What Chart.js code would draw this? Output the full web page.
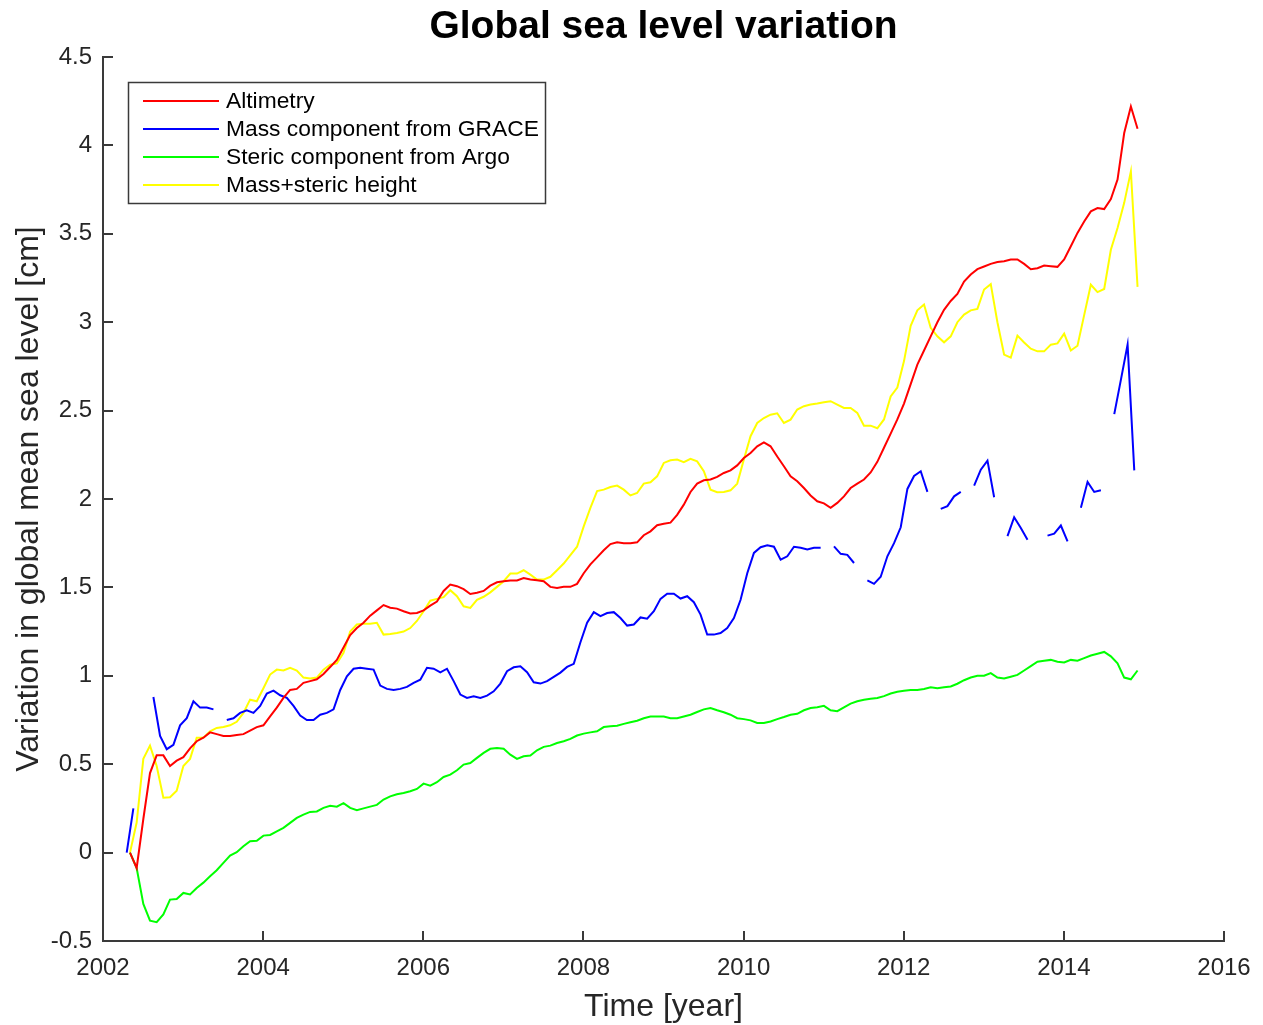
<!DOCTYPE html>
<html>
<head>
<meta charset="utf-8">
<title>Global sea level variation</title>
<script src="https://cdn.jsdelivr.net/npm/chart.js@4.4.1/dist/chart.umd.min.js"></script>
<style>
  html, body { margin: 0; padding: 0; background: #ffffff; }
  canvas { display: block; }
</style>
</head>
<body>
<canvas id="chart" width="1263" height="1025"></canvas>
<script>
// monthly sampling: altimetry / Argo grid and the GRACE grid (half a month earlier)
const MONTHLY_START = 2002.337;
const GRACE_START = 2002.296;

const X_TICKS = [2002, 2004, 2006, 2008, 2010, 2012, 2014, 2016];
const Y_TICKS = [-0.5, 0, 0.5, 1, 1.5, 2, 2.5, 3, 3.5, 4, 4.5];

const SERIES_LABELS = ["Altimetry", "Mass component from GRACE", "Steric component from Argo", "Mass+steric height"];

const altimetry = [
  0, -0.087, 0.19, 0.45, 0.55, 0.55, 0.49, 0.52, 0.54, 0.59,
  0.63, 0.65, 0.68, 0.67, 0.66, 0.66, 0.665, 0.67, 0.69, 0.71,
  0.72, 0.77, 0.82, 0.875, 0.92, 0.926, 0.96, 0.97, 0.98, 1.01,
  1.05, 1.09, 1.16, 1.23, 1.27, 1.30, 1.34, 1.37, 1.40, 1.385,
  1.38, 1.365, 1.352, 1.355, 1.37, 1.397, 1.42, 1.48, 1.516, 1.507,
  1.49, 1.463, 1.47, 1.48, 1.51, 1.529, 1.535, 1.539, 1.539, 1.553,
  1.545, 1.54, 1.535, 1.503, 1.497, 1.503, 1.503, 1.52, 1.58, 1.63,
  1.67, 1.71, 1.745, 1.755, 1.75, 1.75, 1.755, 1.795, 1.817, 1.852,
  1.86, 1.866, 1.91, 1.968, 2.04, 2.087, 2.106, 2.11, 2.125, 2.147,
  2.162, 2.19, 2.232, 2.26, 2.298, 2.32, 2.298, 2.24, 2.185, 2.128,
  2.1, 2.062, 2.02, 1.987, 1.975, 1.95, 1.978, 2.015, 2.062, 2.087,
  2.11, 2.15, 2.21, 2.29, 2.37, 2.45, 2.54, 2.65, 2.76, 2.84,
  2.92, 3.0, 3.07, 3.12, 3.16, 3.23, 3.27, 3.30, 3.315, 3.33,
  3.34, 3.345, 3.355, 3.355, 3.33, 3.30, 3.305, 3.32, 3.317, 3.313,
  3.355, 3.43, 3.505, 3.57, 3.627, 3.646, 3.64, 3.697, 3.807, 4.07,
  4.22, 4.094
];

const grace = [
  0, 0.25, null, null, 0.88, 0.66, 0.585, 0.61, 0.72, 0.76,
  0.856, 0.82, 0.82, 0.81, null, 0.75, 0.76, 0.79, 0.805, 0.79,
  0.83, 0.90, 0.916, 0.89, 0.875, 0.83, 0.775, 0.75, 0.75, 0.78,
  0.79, 0.81, 0.92, 0.997, 1.04, 1.045, 1.04, 1.035, 0.945, 0.926,
  0.92, 0.926, 0.937, 0.96, 0.978, 1.045, 1.04, 1.02, 1.04, 0.97,
  0.894, 0.875, 0.884, 0.875, 0.888, 0.912, 0.956, 1.026, 1.048, 1.054,
  1.02, 0.963, 0.956, 0.97, 0.994, 1.018, 1.05, 1.068, 1.19, 1.30,
  1.36, 1.337, 1.355, 1.36, 1.327, 1.284, 1.29, 1.33, 1.323, 1.365,
  1.435, 1.464, 1.464, 1.437, 1.45, 1.416, 1.346, 1.233, 1.233, 1.242,
  1.27, 1.327, 1.43, 1.58, 1.695, 1.727, 1.738, 1.73, 1.657, 1.676,
  1.73, 1.724, 1.714, 1.724, 1.724, null, 1.732, 1.69, 1.684, 1.638,
  null, 1.54, 1.52, 1.56, 1.676, 1.75, 1.84, 2.057, 2.13, 2.157,
  2.04, null, 1.944, 1.96, 2.015, 2.04, null, 2.076, 2.166, 2.217,
  2.01, null, 1.79, 1.897, 1.836, 1.77, null, null, 1.793, 1.804,
  1.85, 1.76, null, 1.95, 2.097, 2.04, 2.049, null, 2.48, 2.675,
  2.873, 2.162
];

const argo = [
  0, -0.087, -0.29, -0.385, -0.394, -0.35, -0.266, -0.262, -0.228, -0.237,
  -0.2, -0.17, -0.134, -0.10, -0.058, -0.017, 0.002, 0.036, 0.064, 0.067,
  0.096, 0.10, 0.12, 0.14, 0.168, 0.196, 0.215, 0.23, 0.233, 0.253,
  0.265, 0.26, 0.28, 0.253, 0.24, 0.25, 0.26, 0.27, 0.30, 0.318,
  0.33, 0.337, 0.347, 0.36, 0.39, 0.379, 0.398, 0.428, 0.441, 0.466,
  0.498, 0.507, 0.536, 0.564, 0.587, 0.592, 0.587, 0.554, 0.53, 0.545,
  0.549, 0.579, 0.598, 0.605, 0.62, 0.63, 0.643, 0.662, 0.673, 0.68,
  0.686, 0.71, 0.714, 0.718, 0.728, 0.737, 0.746, 0.76, 0.77, 0.77,
  0.77, 0.76, 0.76, 0.77, 0.78, 0.795, 0.81, 0.818, 0.805, 0.794,
  0.78, 0.76, 0.755, 0.748, 0.733, 0.733, 0.742, 0.755, 0.767, 0.78,
  0.785, 0.805, 0.818, 0.822, 0.83, 0.805, 0.80, 0.822, 0.843, 0.856,
  0.865, 0.87, 0.875, 0.885, 0.90, 0.91, 0.915, 0.92, 0.92, 0.925,
  0.935, 0.93, 0.935, 0.94, 0.955, 0.975, 0.99, 1.0, 1.0, 1.015,
  0.99, 0.985, 0.995, 1.005, 1.03, 1.055, 1.08, 1.085, 1.09, 1.08,
  1.075, 1.09, 1.085, 1.10, 1.115, 1.125, 1.135, 1.11, 1.07, 0.99,
  0.98, 1.03
];

const massSteric = [
  0, 0.17, 0.53, 0.605, 0.49, 0.31, 0.313, 0.35, 0.49, 0.53,
  0.65, 0.65, 0.686, 0.705, 0.71, 0.72, 0.74, 0.79, 0.865, 0.856,
  0.93, 1.007, 1.035, 1.03, 1.045, 1.03, 0.99, 0.985, 0.99, 1.035,
  1.063, 1.07, 1.13, 1.25, 1.29, 1.295, 1.295, 1.30, 1.233, 1.236,
  1.242, 1.25, 1.27, 1.31, 1.365, 1.425, 1.435, 1.445, 1.484, 1.45,
  1.393, 1.384, 1.43, 1.447, 1.472, 1.503, 1.535, 1.578, 1.578, 1.597,
  1.572, 1.544, 1.544, 1.56, 1.597, 1.635, 1.683, 1.73, 1.845, 1.95,
  2.045, 2.053, 2.068, 2.076, 2.053, 2.02, 2.034, 2.087, 2.095, 2.128,
  2.204, 2.219, 2.223, 2.208, 2.227, 2.213, 2.157, 2.053, 2.038, 2.04,
  2.049, 2.087, 2.223, 2.355, 2.43, 2.458, 2.477, 2.485, 2.43, 2.449,
  2.506, 2.525, 2.534, 2.54, 2.547, 2.553, 2.534, 2.515, 2.515, 2.487,
  2.415, 2.415, 2.40, 2.45, 2.58, 2.63, 2.78, 2.98, 3.067, 3.10,
  2.968, 2.92, 2.886, 2.92, 3.0, 3.043, 3.067, 3.075, 3.185, 3.215,
  3.0, 2.817, 2.80, 2.924, 2.885, 2.85, 2.835, 2.835, 2.873, 2.88,
  2.935, 2.84, 2.867, 3.04, 3.212, 3.17, 3.188, 3.41, 3.533, 3.675,
  3.853, 3.20
];

const AXIS_COLOR = "#3a3a3a";
const TEXT_COLOR = "#262626";
const FONT = "'Liberation Sans', Arial, Helvetica, sans-serif";

function toPoints(values, start) {
  return values.map((v, i) => ({ x: start + i / 12, y: v }));
}

function lineSet(label, values, start, color) {
  return {
    label,
    data: toPoints(values, start),
    borderColor: color,
    backgroundColor: color,
    borderWidth: 2,
    pointRadius: 0,
    tension: 0,
    spanGaps: false,
  };
}

// title, axis labels, inward ticks and the boxed legend
const decorations = {
  id: "decorations",
  afterDraw(chart) {
    const { ctx, chartArea, scales } = chart;
    const { x, y } = scales;
    ctx.save();

    ctx.strokeStyle = AXIS_COLOR;
    ctx.lineWidth = 2;
    ctx.beginPath();
    X_TICKS.forEach((v) => {
      const px = Math.round(x.getPixelForValue(v));
      ctx.moveTo(px, chartArea.bottom);
      ctx.lineTo(px, chartArea.bottom - 10);
    });
    Y_TICKS.forEach((v) => {
      const py = Math.round(y.getPixelForValue(v));
      ctx.moveTo(chartArea.left, py);
      ctx.lineTo(chartArea.left + 10, py);
    });
    ctx.stroke();

    const midX = (chartArea.left + chartArea.right) / 2;
    ctx.fillStyle = "#000000";
    ctx.textAlign = "center";
    ctx.textBaseline = "alphabetic";
    ctx.font = "bold 39px " + FONT;
    ctx.fillText("Global sea level variation", midX, 38);

    ctx.fillStyle = TEXT_COLOR;
    ctx.font = "32px " + FONT;
    ctx.fillText("Time [year]", midX, 1016);

    ctx.save();
    ctx.translate(38, (chartArea.top + chartArea.bottom) / 2);
    ctx.rotate(-Math.PI / 2);
    ctx.fillText("Variation in global mean sea level [cm]", 0, 0);
    ctx.restore();

    // legend
    const box = { left: 128.5, top: 82.5, right: 545.5, bottom: 203.5 };
    ctx.fillStyle = "#ffffff";
    ctx.fillRect(box.left, box.top, box.right - box.left, box.bottom - box.top);
    ctx.strokeStyle = AXIS_COLOR;
    ctx.lineWidth = 1.5;
    ctx.strokeRect(box.left, box.top, box.right - box.left, box.bottom - box.top);

    ctx.font = "22.8px " + FONT;
    ctx.textAlign = "left";
    ctx.textBaseline = "middle";
    chart.data.datasets.forEach((ds, i) => {
      const rowY = 101 + i * 28;
      ctx.strokeStyle = ds.borderColor;
      ctx.lineWidth = 2;
      ctx.beginPath();
      ctx.moveTo(143, rowY);
      ctx.lineTo(219, rowY);
      ctx.stroke();
      ctx.fillStyle = "#000000";
      ctx.fillText(ds.label, 226, rowY + 1);
    });

    ctx.restore();
  },
};

new Chart(document.getElementById("chart"), {
  type: "line",
  data: {
    datasets: [
      lineSet(SERIES_LABELS[0], altimetry, MONTHLY_START, "#ff0000"),
      lineSet(SERIES_LABELS[1], grace, GRACE_START, "#0000ff"),
      lineSet(SERIES_LABELS[2], argo, MONTHLY_START, "#00ff00"),
      lineSet(SERIES_LABELS[3], massSteric, MONTHLY_START, "#ffff00"),
    ],
  },
  options: {
    responsive: false,
    animation: false,
    devicePixelRatio: 1,
    layout: { padding: { left: 0, top: 57, right: 39, bottom: 0 } },
    plugins: {
      legend: { display: false },
      tooltip: { enabled: false },
    },
    scales: {
      x: {
        type: "linear",
        min: 2002,
        max: 2016,
        afterFit(scale) { scale.height = 84; },
        afterBuildTicks(scale) { scale.ticks = X_TICKS.map((v) => ({ value: v })); },
        grid: { display: false },
        border: { display: true, color: AXIS_COLOR, width: 2 },
        ticks: {
          color: TEXT_COLOR,
          font: { family: FONT, size: 24 },
          padding: 5,
          maxRotation: 0,
          callback: (v) => String(v),
        },
      },
      y: {
        type: "linear",
        min: -0.5,
        max: 4.5,
        afterFit(scale) { scale.width = 103; },
        afterBuildTicks(scale) { scale.ticks = Y_TICKS.map((v) => ({ value: v })); },
        grid: { display: false },
        border: { display: true, color: AXIS_COLOR, width: 2 },
        ticks: {
          color: TEXT_COLOR,
          font: { family: FONT, size: 24 },
          padding: 3,
          callback: (v) => String(v),
        },
      },
    },
  },
  plugins: [decorations],
});
</script>
</body>
</html>
